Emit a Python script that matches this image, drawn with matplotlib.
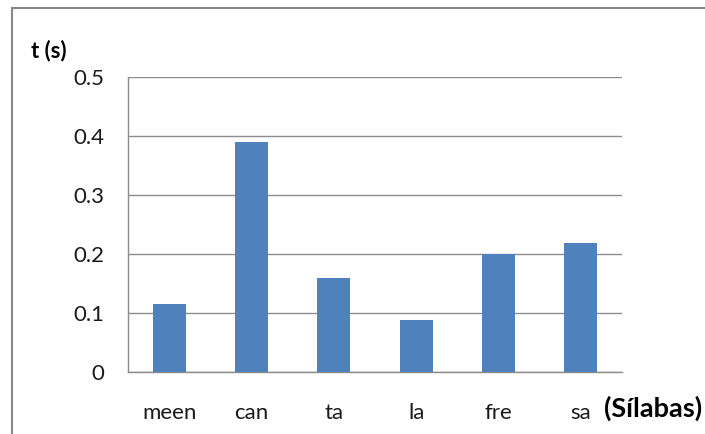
import matplotlib
matplotlib.use("Agg")
import matplotlib.pyplot as plt
from matplotlib.patches import Rectangle

categories = ["meen", "can", "ta", "la", "fre", "sa"]
values = [0.115, 0.39, 0.16, 0.088, 0.2, 0.218]
yticks = [0, 0.1, 0.2, 0.3, 0.4, 0.5]
ytick_labels = ["0", "0.1", "0.2", "0.3", "0.4", "0.5"]

W, H = 705, 434
fig = plt.figure(figsize=(W / 100, H / 100), dpi=100)
plt.rcParams['font.family'] = ['Lato', 'DejaVu Sans']

# outer chart border (partially cropped)
fig.patches.append(Rectangle((12 / W, -0.05), 1.2, (H - 8) / H + 0.05,
                             transform=fig.transFigure, fill=False,
                             edgecolor="#888888", linewidth=1.5))

left, right, top, bottom = 128, 622, 77, 372
ax = fig.add_axes([left / W, 1 - bottom / H, (right - left) / W, (bottom - top) / H])
x = range(len(categories))
ax.bar(x, values, width=0.4, color="#4F81BD", zorder=3)
ax.set_xlim(-0.5, len(categories) - 0.5)
ax.set_ylim(0, 0.5)
ax.set_yticks(yticks)
ax.set_yticklabels(ytick_labels, fontsize=16, color="#1a1a1a")
ax.set_xticks(list(x))
ax.set_xticklabels(categories, fontsize=16, color="#1a1a1a")
ax.tick_params(axis="both", length=0)
ax.tick_params(axis="y", pad=17)
ax.tick_params(axis="x", pad=22)
ax.grid(axis="y", color="#8c8c8c", linewidth=1.0, zorder=0)
for s in ["top", "right"]:
    ax.spines[s].set_visible(False)
for s in ["left", "bottom"]:
    ax.spines[s].set_color("#8c8c8c")
    ax.spines[s].set_linewidth(1.0)

fig.text(31 / W, 1 - 51 / H, "t (s)", fontsize=16, fontweight="bold",
         ha="left", va="center", color="#000000")
fig.text(604 / W, 1 - 408 / H, "(Sílabas)", fontsize=19.5, fontweight="bold",
         ha="left", va="center", color="#000000")

fig.savefig("out.png", dpi=100)
